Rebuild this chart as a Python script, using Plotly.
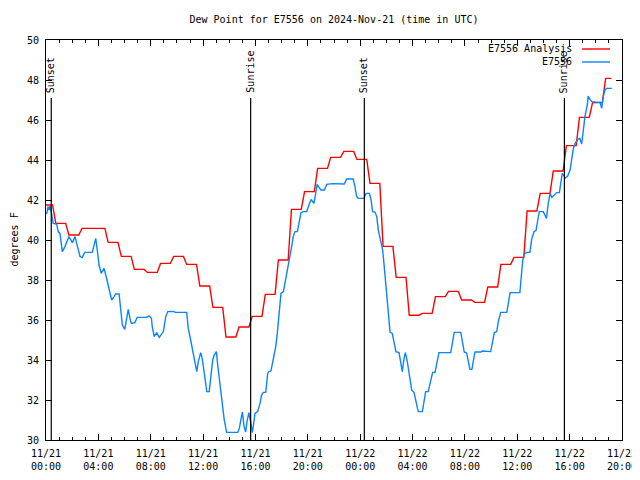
import pandas as pd
import plotly.graph_objects as go

# ---------------- data ----------------
base = pd.Timestamp("2024-11-21 00:00")

# hourly analysis values (hour 0 .. 43 after 2024-11-21 00:00 UTC)
analysis_vals = [41.75, 40.83, 40.25, 40.58, 40.58, 39.88, 39.18, 38.53, 38.38, 38.83,
                 39.18, 38.78, 37.70, 36.63, 35.15, 35.65, 36.18, 37.28, 39.00, 41.53,
                 42.42, 43.58, 44.13, 44.43, 44.03, 42.83, 39.68, 38.13, 36.24, 36.33,
                 37.17, 37.43, 37.00, 36.88, 37.65, 38.78, 39.13, 41.45, 42.33, 43.45,
                 44.72, 46.13, 46.87, 48.08]
analysis_end_min = 2592

# station observations: minutes after 2024-11-21 00:00 UTC, dew point (F)
obs_min = [3, 9, 14, 18, 24, 33, 49, 56, 64, 75, 87, 105, 121, 133, 136, 148, 156, 166, 177, 212,
           220, 228, 235, 243, 253, 266, 274, 289, 301, 312, 319, 335, 342, 350, 361, 370, 377, 385,
           391, 407, 418, 457, 472, 483, 487, 496, 507, 519, 538, 549, 558, 583, 594, 645, 652, 663,
           675, 683, 691, 698, 709, 716, 726, 737, 748, 756, 764, 771, 781, 787, 797, 808, 817, 828,
           879, 886, 894, 900, 908, 915, 921, 930, 938, 946, 958, 970, 981, 988, 996, 1007, 1016,
           1022, 1031, 1042, 1053, 1060, 1068, 1077, 1088, 1095, 1103, 1111, 1118, 1126, 1133, 1141,
           1152, 1160, 1169, 1179, 1195, 1205, 1215, 1222, 1228, 1236, 1243, 1251, 1260, 1276, 1287,
           1312, 1351, 1367, 1378, 1408, 1416, 1424, 1431, 1457, 1467, 1482, 1490, 1497, 1508, 1516,
           1523, 1534, 1543, 1549, 1557, 1564, 1572, 1577, 1587, 1595, 1604, 1618, 1626, 1633, 1641,
           1647, 1656, 1665, 1676, 1687, 1699, 1706, 1725, 1733, 1740, 1752, 1763, 1772, 1783, 1793,
           1801, 1855, 1862, 1871, 1901, 1908, 1917, 1928, 1935, 1943, 1952, 1958, 1966, 1994, 2000,
           2038, 2046, 2055, 2066, 2073, 2084, 2112, 2119, 2127, 2172, 2177, 2185, 2192, 2203, 2218,
           2226, 2237, 2246, 2254, 2261, 2279, 2287, 2294, 2301, 2310, 2318, 2325, 2333, 2341, 2353,
           2359, 2366, 2374, 2379, 2391, 2402, 2409, 2417, 2425, 2440, 2447, 2455, 2463, 2470, 2481,
           2485, 2493, 2501, 2532, 2539, 2547, 2554, 2562, 2570, 2593]
obs_vals = [41.3, 41.67, 41.5, 41.7, 41.42, 40.83, 40.8, 40.42, 40.33, 39.42, 39.67, 40.17, 39.87,
            40.17, 40.03, 39.58, 39.17, 39.12, 39.38, 39.38, 39.75, 40.08, 39.5, 38.75, 38.33, 38.58,
            38.25, 37.5, 37.0, 37.17, 37.3, 37.3, 36.67, 35.75, 35.53, 36.08, 36.53, 36.08, 35.83,
            35.87, 36.13, 36.13, 36.2, 36.1, 35.67, 35.17, 35.37, 35.13, 35.42, 36.17, 36.42, 36.43,
            36.38, 36.38, 35.58, 35.0, 34.25, 33.8, 33.42, 33.92, 34.37, 34.08, 33.25, 32.42, 32.42,
            33.17, 34.0, 34.25, 34.42, 33.75, 32.83, 31.83, 31.0, 30.38, 30.38, 30.58, 31.08, 31.4,
            30.67, 30.4, 30.92, 31.37, 30.9, 30.37, 31.33, 31.42, 31.83, 32.25, 32.38, 32.38, 33.33,
            33.42, 33.45, 34.0, 34.67, 35.33, 36.33, 37.33, 37.42, 37.83, 38.33, 38.75, 39.08, 39.67,
            40.17, 40.42, 40.42, 40.92, 41.37, 41.42, 41.42, 41.75, 42.03, 41.92, 41.83, 42.33, 42.78,
            42.63, 42.5, 42.5, 42.78, 42.82, 42.78, 42.8, 43.05, 43.05, 42.67, 42.17, 42.08, 42.08,
            42.33, 42.33, 42.0, 41.42, 41.4, 41.17, 40.5, 40.0, 39.5, 38.83, 37.83, 36.83, 35.83,
            35.38, 35.33, 34.92, 34.42, 34.37, 33.92, 33.42, 34.08, 34.37, 33.92, 33.33, 32.5, 32.37,
            31.83, 31.42, 31.42, 32.0, 32.42, 32.42, 33.0, 33.38, 33.38, 33.92, 34.37, 34.37, 34.83,
            35.38, 35.38, 34.92, 34.4, 34.35, 34.0, 33.53, 33.53, 33.92, 34.4, 34.4, 34.45, 34.42,
            34.8, 35.37, 35.42, 35.92, 36.38, 36.38, 36.83, 37.37, 37.37, 38.17, 39.0, 39.3, 39.38,
            39.38, 40.03, 40.42, 40.47, 41.0, 41.42, 41.42, 41.25, 41.08, 41.75, 42.33, 42.13, 42.2,
            42.3, 42.37, 42.37, 42.83, 43.33, 43.22, 43.08, 43.2, 43.5, 44.0, 44.58, 44.83, 45.05,
            45.08, 44.8, 45.5, 46.17, 46.75, 47.2, 47.03, 46.92, 46.88, 46.9, 46.58, 47.17, 47.5,
            47.58, 47.58]

sun_labels = ["Sunset", "Sunrise", "Sunset", "Sunrise"]
sun_times = ["2024-11-21 00:24", "2024-11-21 15:38", "2024-11-22 00:19", "2024-11-22 15:36"]

station = "E7556"
title_text = "Dew Point for E7556 on 2024-Nov-21 (time in UTC)"

# ---------------- build traces ----------------
ana_t, ana_v = [], []
for h, v in enumerate(analysis_vals):
    start = 0 if h == 0 else h * 60 - 15
    end = min(h * 60 + 30, analysis_end_min)
    ana_t += [start, end]
    ana_v += [v, v]
ana_time = base + pd.to_timedelta(ana_t, unit="min")
obs_time = base + pd.to_timedelta(obs_min, unit="min")

RED = "#ff0000"
BLUE = "#0a84ff"
FONT = "DejaVu Sans Mono"

fig = go.Figure()
fig.add_trace(go.Scatter(x=ana_time, y=ana_v, mode="lines", name=station + " Analysis",
                         line=dict(color=RED, width=1.4), showlegend=False))
fig.add_trace(go.Scatter(x=obs_time, y=obs_vals, mode="lines", name=station,
                         line=dict(color=BLUE, width=1.4), showlegend=False))

# sunrise / sunset markers
for lab, t in zip(sun_labels, sun_times):
    fig.add_shape(type="line", xref="x", yref="paper", x0=t, x1=t, y0=0, y1=0.855,
                  line=dict(color="black", width=1.2))
    fig.add_annotation(x=t, xref="x", y=0.8625, yref="paper", text=lab, textangle=-90,
                       showarrow=False, xanchor="center", yanchor="bottom",
                       font=dict(family=FONT, size=10, color="black"))

# gnuplot-style legend (text left, sample right)
for i, (lab, col) in enumerate([(station + " Analysis", RED), (station, BLUE)]):
    yp = 0.9775 - i * 0.0325
    fig.add_annotation(x=0.9167, xref="paper", y=yp, yref="paper", text=lab,
                       showarrow=False, xanchor="right", yanchor="middle",
                       font=dict(family=FONT, size=10, color="black"))
    fig.add_shape(type="line", xref="paper", yref="paper", x0=0.9306, x1=0.9792,
                  y0=yp, y1=yp, line=dict(color=col, width=1.4))

# y-axis label
fig.add_annotation(x=-0.0564, xref="paper", y=0.5, yref="paper", text="degrees F",
                   textangle=-90, showarrow=False, xanchor="center", yanchor="middle",
                   font=dict(family=FONT, size=10, color="black"))

# the page body adds an 8px offset; compensate so the plot frame lands at 46..622 x 40..440
# and keep the page short enough to avoid a vertical scrollbar
fig.update_layout(
    width=632, height=464,
    margin=dict(l=38, r=18, t=32, b=32, autoexpand=False),
    paper_bgcolor="white", plot_bgcolor="white",
    font=dict(family=FONT, size=10, color="black"),
    title=dict(text=title_text, x=0.5, xref="paper", y=1 - 11 / 464, yref="container",
               xanchor="center", yanchor="middle", font=dict(family=FONT, size=10)),
    showlegend=False,
)
fig.update_xaxes(
    type="date",
    range=[base, base + pd.Timedelta(hours=44)],
    tick0=base, dtick=4 * 3600 * 1000, tickformat="%m/%d<br>%H:%M",
    ticks="inside", ticklen=6, tickcolor="black", showline=True, linecolor="black",
    linewidth=1, mirror="ticks", showgrid=False, zeroline=False, ticklabelstandoff=4,
    ticklabeloverflow="allow",
    minor=dict(dtick=3600 * 1000, ticks="inside", ticklen=3, tickcolor="black", showgrid=False),
)
fig.update_yaxes(
    range=[30, 50], dtick=2, tick0=30,
    ticks="inside", ticklen=6, tickcolor="black", showline=True, linecolor="black",
    linewidth=1, mirror="ticks", showgrid=False, zeroline=False, ticklabelstandoff=4,
)

fig.write_html("out.html")
